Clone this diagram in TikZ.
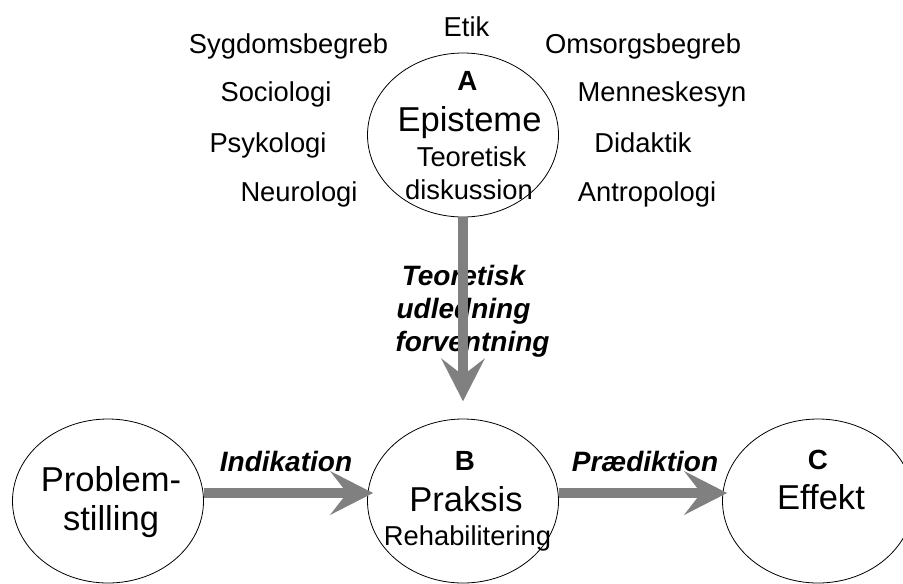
\documentclass[tikz,border=0pt]{standalone}
\usepackage{fontspec}
\setmainfont{Liberation Sans}
\usetikzlibrary{shapes.geometric,arrows.meta}

\tikzset{
  bubble/.style={ellipse,draw,fill=white,line width=0.6pt,minimum width=143.25pt,minimum height=123pt,inner sep=0pt},
  topic/.style={anchor=base,inner sep=0pt,font=\fontsize{20.5}{24}\selectfont},
  heading/.style={anchor=base,inner sep=0pt,font=\fontsize{25.9}{30}\selectfont},
  letter/.style={anchor=base,inner sep=0pt,font=\fontsize{20.8}{24}\selectfont\bfseries},
  flowlabel/.style={anchor=base,inner sep=0pt,font=\fontsize{21}{24}\selectfont\bfseries\itshape},
  flow/.style={draw=gray,line width=7.5pt,-{Stealth[length=32pt,width=32.5pt,inset=12.5pt]}}
}

\begin{document}
\begin{tikzpicture}[x=0.75pt,y=-0.75pt]
\useasboundingbox (0,0) rectangle (903,583);
\clip (0,0) rectangle (903,583);

% the four ellipses
\node[bubble] (epi) at (463,135) {};
\node[bubble] (prob) at (108,501) {};
\node[bubble] (prax) at (463,501) {};
\node[bubble] (eff) at (818,501) {};

% fields round the episteme
\node[topic] (etik) at (466.5,36) {Etik};
\node[topic] (sygdom) at (288.5,53.3) {Sygdomsbegreb};
\node[topic] (omsorg) at (643,53.3) {Omsorgsbegreb};
\node[topic] (socio) at (276,101.7) {Sociologi};
\node[topic] (menneske) at (662,101.7) {Menneskesyn};
\node[topic] (psyk) at (268,152.7) {Psykologi};
\node[topic] (didak) at (643,152.7) {Didaktik};
\node[topic] (neuro) at (299,201.7) {Neurologi};
\node[topic] (antro) at (647,201.7) {Antropologi};

% A
\node[letter] (epiA) at (467.5,90.7) {A};
\node[heading] (epiname) at (469.5,131.7) {Episteme};
\node[topic] (epiteo) at (471.5,166.7) {Teoretisk};
\node[topic] (epidisk) at (469,199.3) {diskussion};

% problemstilling
\node[heading] (probone) at (111,491.7) {Problem-};
\node[heading] (probtwo) at (111,530) {stilling};

% B
\node[letter] (praxB) at (465,470) {B};
\node[heading] (praxname) at (466,511.7) {Praksis};
\node[topic] (praxrehab) at (467.5,545.7) {Rehabilitering};

% C
\node[letter] (effC) at (818,469) {C};
\node[heading] (effname) at (821,509) {Effekt};

% arrow labels
\node[flowlabel] (teo) at (463.5,285) {Teoretisk};
\node[flowlabel] (udl) at (463.5,318) {udledning};
\node[flowlabel] (forv) at (472.5,351.7) {forventning};
\node[flowlabel] (indik) at (286,471.7) {Indikation};
\node[flowlabel] (praed) at (645,471.7) {Prædiktion};

% arrows
\draw[flow,shorten >=13pt] (epi) -- (prax);
\draw[flow,shorten >=-4.5pt] ([yshift=6pt]prob.east) -- ([yshift=6pt]prax.west);
\draw[flow,shorten >=-3.75pt] ([yshift=6pt]prax.east) -- ([yshift=6pt]eff.west);

\end{tikzpicture}
\end{document}
